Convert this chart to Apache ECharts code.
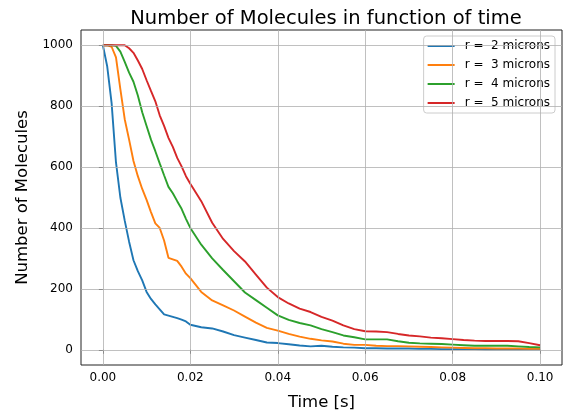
<!DOCTYPE html>
<html>
<head>
<meta charset="utf-8">
<script src="https://cdn.jsdelivr.net/npm/echarts@6/dist/echarts.min.js"></script>
<style>html,body{margin:0;padding:0;background:#fff;}#c{width:566px;height:416px;}</style>
</head>
<body>
<div id="c"></div>
<script>
// time grid (s)
const times = [0,0.001,0.002,0.003,0.004,0.005,0.006,0.007,0.008,0.009,0.010,0.011,0.012,0.013,0.014,0.015,0.016,0.017,0.018,0.019,0.020,
  0.0225,0.025,0.0275,0.030,0.0325,0.035,0.0375,0.040,0.0425,0.045,0.0475,0.050,0.0525,0.055,0.0575,0.060,0.0625,0.065,0.0675,0.070,
  0.0725,0.075,0.0775,0.080,0.0825,0.085,0.0875,0.090,0.0925,0.095,0.0975,0.100];
const r2 = [1000,930,810,615,500,424,355,294,258,228,190,167,149,133,116,112,108,104,99,93,82,
  74,70,60,48,40,32,24,22,18,14,11,13,10,8,7,5,5,4,4,4,
  3,3,2,2,2,2,1,1,1,1,1,1];
const r3 = [1000,1000,995,960,856,757,690,620,570,528,492,452,415,400,359,302,297,292,273,250,235,
  190,162,146,129,109,89,72,63,52,43,36,31,27,20,16,16,13,12,12,11,
  10,9,8,7,6,5,5,4,4,4,3,3];
const r4 = [1000,1000,1000,998,979,945,910,880,835,780,735,690,652,612,573,535,514,488,463,430,400,
  345,300,262,225,188,163,138,113,98,88,80,68,58,47,41,34,34,34,28,23,
  21,20,19,17,15,13,13,13,13,11,9,8];
const r5 = [1000,1000,1000,1000,1000,1000,990,975,950,922,885,850,816,770,735,696,666,630,602,570,545,
  488,417,364,324,290,247,204,173,152,135,124,108,96,80,68,61,60,58,52,47,
  44,40,38,35,32,30,29,29,29,28,22,15];
const names = ['r =  2 microns','r =  3 microns','r =  4 microns','r =  5 microns'];
const colors = ['#1f77b4','#ff7f0e','#2ca02c','#d62728'];
const xTicks = [0,0.02,0.04,0.06,0.08,0.10];
const yTicks = [0,200,400,600,800,1000];

const chart = echarts.init(document.getElementById('c'));
const seriesVals = [r2,r3,r4,r5];
const dataSeries = seriesVals.map((vals,i)=>({
  name: names[i], type:'line', showSymbol:false, symbol:'none', z:3,
  data: times.map((t,k)=>[t, vals[k]]),
  lineStyle:{color:colors[i], width:1.9}, itemStyle:{color:colors[i]}
}));
const gridLineStyle = {color:'#b0b0b0', width:0.8, type:'solid'};
const gridSeries = {
  name:'_grid', type:'line', data:[], z:1, silent:true,
  markLine:{
    silent:true, symbol:'none', animation:false,
    label:{show:false}, lineStyle:gridLineStyle,
    data: xTicks.map(v=>({xAxis:v})).concat(yTicks.map(v=>({yAxis:v})))
  }
};
const font = 'DejaVu Sans';
chart.setOption({
  animation:false,
  backgroundColor:'#fff',
  title:{text:'Number of Molecules in function of time', left:321, top:4, textAlign:'center',
    textStyle:{fontFamily:font, fontSize:19.5, fontWeight:'normal', color:'#000'}},
  grid:{left:81, right:4, top:30, bottom:50, show:true, borderColor:'#222', borderWidth:1, backgroundColor:'transparent'},
  legend:{
    data:names, orient:'vertical', right:11, top:36,
    icon:'path://M0,0h27v2h-27z M32,0h0.01v0.01h-0.01z', itemWidth:32, itemHeight:2, itemGap:5,
    padding:[3,5,3,4], borderColor:'#cccccc', borderWidth:1, borderRadius:3,
    backgroundColor:'rgba(255,255,255,0.8)',
    textStyle:{fontFamily:font, fontSize:12, color:'#000', lineHeight:14}
  },
  xAxis:{
    type:'value', min:-0.005, max:0.105,
    name:'Time [s]', nameLocation:'middle', nameGap:29,
    nameTextStyle:{fontFamily:font, fontSize:16.5, color:'#000'},
    axisLine:{show:false},
    axisTick:{show:true, inside:false, length:4, customValues:xTicks, lineStyle:{color:'#000'}},
    axisLabel:{customValues:xTicks, formatter:v=>v.toFixed(2), fontFamily:font, fontSize:12, color:'#000', margin:7},
    splitLine:{show:false}
  },
  yAxis:{
    type:'value', min:-50, max:1050,
    name:'Number of Molecules', nameLocation:'middle', nameGap:48, nameRotate:90,
    nameTextStyle:{fontFamily:font, fontSize:16.5, color:'#000'},
    axisLine:{show:false},
    axisTick:{show:true, inside:false, length:4, customValues:yTicks, lineStyle:{color:'#000'}},
    axisLabel:{customValues:yTicks, formatter:v=>String(v), fontFamily:font, fontSize:12, color:'#000', margin:8},
    splitLine:{show:false}
  },
  series:[gridSeries].concat(dataSeries)
});
</script>
</body>
</html>
